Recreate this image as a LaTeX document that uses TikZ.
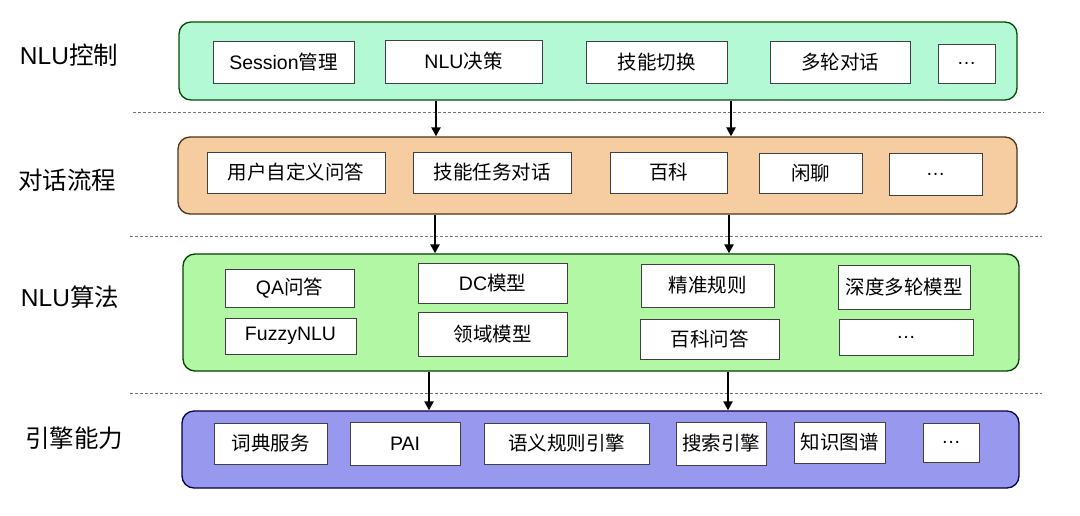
\documentclass[tikz,border=0pt]{standalone}
\usepackage{fontspec}
\setmainfont{Liberation Sans}
\newfontfamily\cjk{Noto Sans CJK SC}
\usetikzlibrary{arrows.meta}

\newcommand{\zh}[1]{{\cjk #1}}

\definecolor{vrstvaA}{RGB}{180,249,214}
\definecolor{vrstvaB}{RGB}{245,205,160}
\definecolor{vrstvaC}{RGB}{178,247,164}
\definecolor{vrstvaD}{RGB}{152,152,238}

\tikzset{
    layer/.style={draw, line width=1.3pt, rounded corners=12pt, inner sep=0pt},
    box/.style={draw=black!75, line width=1pt, fill=white, inner sep=0pt,
        font=\fontsize{19.5}{22}\selectfont},
    title/.style={font=\fontsize{24.5}{28}\selectfont},
    arr/.style={line width=2.4pt, -{Triangle[length=9pt,width=9pt]}},
    sep/.style={draw=black!55, line width=0.8pt, dash pattern=on 3pt off 2pt}
}

\begin{document}
\begin{tikzpicture}[x=1pt, y=-1pt]
        \useasboundingbox (0,0) rectangle (1080,515);

        % vrstvy
        \node[layer, draw=green!30!black, fill=vrstvaA, minimum width=838, minimum height=78] (L1) at (598,61) {};
        \node[layer, draw=brown!40!black, fill=vrstvaB, minimum width=839, minimum height=77] (L2) at (597.5,175.5) {};
        \node[layer, draw=green!25!black, fill=vrstvaC, minimum width=836, minimum height=117] (L3) at (601,312.5) {};
        \node[layer, draw=blue!30!black, fill=vrstvaD, minimum width=837, minimum height=77] (L4) at (600.5,449.5) {};

        % popisky vlevo
        \node[title] (t1) at (69,55) {NLU\zh{控制}};
        \node[title] (t2) at (67,180) {\zh{对话流程}};
        \node[title] (t3) at (70,297) {NLU\zh{算法}};
        \node[title] (t4) at (74,438) {\zh{引擎能力}};

        % NLU控制
        \node[box, minimum width=141, minimum height=42] (s11) at (283.5,62) {Session\zh{管理}};
        \node[box, minimum width=157, minimum height=43] (s12) at (463.5,61.5) {NLU\zh{决策}};
        \node[box, minimum width=141, minimum height=42] (s13) at (656.5,62) {\zh{技能切换}};
        \node[box, minimum width=140, minimum height=42] (s14) at (840,62) {\zh{多轮对话}};
        \node[box, minimum width=57, minimum height=39] (s15) at (966.5,63.5) {…};

        % 对话流程
        \node[box, minimum width=178, minimum height=41] (s21) at (296,172.5) {\zh{用户自定义问答}};
        \node[box, minimum width=158, minimum height=41] (s22) at (492,172.5) {\zh{技能任务对话}};
        \node[box, minimum width=117, minimum height=41] (s23) at (668.5,172.5) {\zh{百科}};
        \node[box, minimum width=103, minimum height=40] (s24) at (810.5,173) {\zh{闲聊}};
        \node[box, minimum width=93, minimum height=42] (s25) at (935.5,174) {…};

        % NLU算法
        \node[box, minimum width=129, minimum height=38] (s31) at (289.5,288) {QA\zh{问答}};
        \node[box, minimum width=131, minimum height=36] (s32) at (290.5,336) {FuzzyNLU};
        \node[box, minimum width=149, minimum height=40] (s33) at (492.5,283) {DC\zh{模型}};
        \node[box, minimum width=149, minimum height=44] (s34) at (492.5,334) {\zh{领域模型}};
        \node[box, minimum width=133, minimum height=43] (s35) at (707.5,285.5) {\zh{精准规则}};
        \node[box, minimum width=139, minimum height=40] (s36) at (709.5,339) {\zh{百科问答}};
        \node[box, minimum width=132, minimum height=44] (s37) at (904,287) {\zh{深度多轮模型}};
        \node[box, minimum width=134, minimum height=36] (s38) at (906,337) {…};

        % 引擎能力
        \node[box, minimum width=113, minimum height=41] (s41) at (270.5,443.5) {\zh{词典服务}};
        \node[box, minimum width=110, minimum height=43] (s42) at (405,443.5) {PAI};
        \node[box, minimum width=165, minimum height=41] (s43) at (566.5,443.5) {\zh{语义规则引擎}};
        \node[box, minimum width=90, minimum height=43] (s44) at (721,443.5) {\zh{搜索引擎}};
        \node[box, minimum width=91, minimum height=41] (s45) at (839.5,442.5) {\zh{知识图谱}};
        \node[box, minimum width=56, minimum height=39] (s46) at (951,442.5) {…};

        % oddělovače
        \draw[sep] (133,112) -- (1044,112);
        \draw[sep] (130,236) -- (1042,236);
        \draw[sep] (130,393) -- (1042,393);

        % šipky mezi vrstvami
        \coordinate (a1) at (436,0);
        \coordinate (b1) at (731,0);
        \coordinate (a2) at (435,0);
        \coordinate (b2) at (729,0);
        \coordinate (a3) at (429,0);
        \coordinate (b3) at (728,0);
        \draw[arr] (L1.south -| a1) -- (L2.north -| a1);
        \draw[arr] (L1.south -| b1) -- (L2.north -| b1);
        \draw[arr] (L2.south -| a2) -- (L3.north -| a2);
        \draw[arr] (L2.south -| b2) -- (L3.north -| b2);
        \draw[arr] (L3.south -| a3) -- (L4.north -| a3);
        \draw[arr] (L3.south -| b3) -- (L4.north -| b3);

    \end{tikzpicture}
\end{document}
